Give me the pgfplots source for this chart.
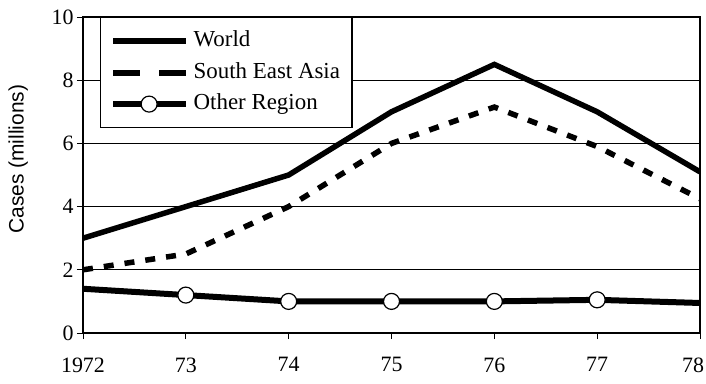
\documentclass[border=0pt]{standalone}
\usepackage{pgfplots}
\pgfplotsset{compat=1.18}
\usepackage{fontspec}
\setmainfont{Liberation Serif}
\newfontfamily\labelfont{Liberation Sans}
\pgfplotsset{
  solidleg/.style={legend image code/.code={\fill[black, draw=none] (0bp,-2.9bp) rectangle (73bp,2.9bp);}},
  dashleg/.style={legend image code/.code={\fill[black, draw=none] (0bp,-3bp) rectangle (27bp,3bp); \fill[black, draw=none] (46bp,-3bp) rectangle (73bp,3bp);}},
  markleg/.style={legend image code/.code={\fill[black, draw=none] (0bp,-2.9bp) rectangle (73bp,2.9bp); \draw[black, fill=white, solid, line width=1.2bp] (36.5bp,0bp) circle (8bp);}},
}
\begin{document}
\begin{tikzpicture}
\begin{axis}[
 scale only axis, width=617bp, height=316bp,
 xmin=0, xmax=6, ymin=0, ymax=10,
 xtick={0,1,2,3,4,5,6}, xticklabels={1972,73,74,75,76,77,{78\hspace*{14bp}}},
 ytick={0,2,4,6,8,10},
 ymajorgrids, grid style={black, line width=0.8bp},
 axis line style={line width=1.2bp},
 tick style={black, line width=0.8bp},
 tick align=outside, major tick length=6bp,
 tick pos=left,
 ticklabel style={font=\fontsize{22}{26}\selectfont},
 xticklabel style={yshift=-15bp},
 /pgf/number format/assume math mode=true,
 ylabel={Cases (millions)},
 ylabel style={font=\labelfont\fontsize{21}{25}\selectfont, at={(axis description cs:-0.105,0.55)}, anchor=center},
 legend style={at={(rel axis cs:0.0276,1)}, anchor=north west, draw=black, line width=1.2bp,
   font=\fontsize{23}{27}\selectfont, inner xsep=12bp, inner ysep=13bp, row sep=10.5bp, column sep=8bp,
   nodes={inner sep=0bp, text height=16bp, text depth=5bp}},
 legend cell align=left,
]
\addplot[black, line width=5.5bp, solidleg] coordinates {(0,3.0)(1,4.0)(2,5.0)(3,7.0)(4,8.5)(5,7.0)(6,5.1)};
\addlegendentry{World}
\addplot[black, line width=5.5bp, dash pattern=on 10bp off 11bp, dashleg] coordinates {(0,2.0)(1,2.5)(2,4.0)(3,6.0)(4,7.15)(5,5.9)(6,4.25)};
\addlegendentry{South East Asia}
\addplot[black, line width=6bp, mark=*, mark indices={2,3,4,5,6}, mark size=8bp,
  mark options={fill=white, draw=black, line width=1.2bp}, markleg] coordinates {(0,1.4)(1,1.2)(2,1.0)(3,1.0)(4,1.0)(5,1.05)(6,0.95)};
\addlegendentry{Other Region}
\end{axis}
\pgfresetboundingbox
\path ([xshift=-83bp,yshift=-50bp]current axis.south west) rectangle ([xshift=6bp,yshift=17bp]current axis.north east);
\end{tikzpicture}
\end{document}
